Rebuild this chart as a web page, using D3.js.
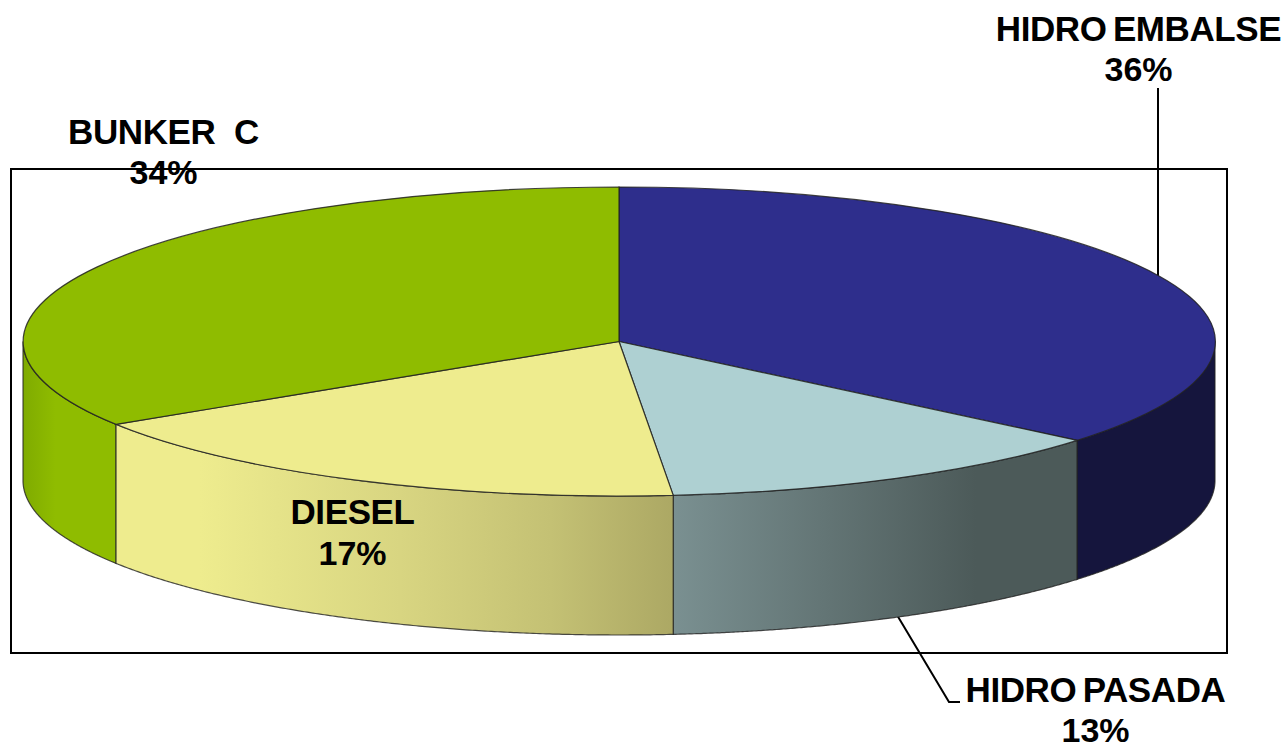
<!DOCTYPE html>
<html>
<head>
<meta charset="utf-8">
<script src="https://cdn.jsdelivr.net/npm/d3@7"></script>
<style>
  html, body { margin: 0; padding: 0; background: #fff; overflow: hidden; }
  text { font-family: "Liberation Sans", Arial, sans-serif; font-weight: bold; fill: #000; text-anchor: middle; }
</style>
</head>
<body>
<svg id="chart" width="1288" height="744"></svg>
<script>
// values, clockwise from the top of the pie
const categories = ["HIDRO EMBALSE", "HIDRO PASADA", "DIESEL", "BUNKER  C"];
const shares = [36.05, 12.5, 17.45, 34];

const topColors = ["#2e2e8c", "#aed0d2", "#eeec8e", "#8fbc00"];
const sideStops = [
    [[0, "#15153d"], [1, "#15153d"]],
    [[0, "#7a9091"], [0.75, "#4c5a59"], [1, "#4c5a59"]],
    [[0, "#eeec8e"], [0.15, "#eeec8e"], [0.29, "#e5e389"], [0.51, "#d8d581"], [0.78, "#c4c174"], [1, "#aca864"]],
    [[0, "#7fab00"], [0.35, "#8fbc00"], [1, "#8fbc00"]]
];

const cx = 619, cy = 341.5, rx = 596, ry = 154.5, depth = 139;

let svg = d3.select("#chart");

let xScale = d3.scaleLinear().domain([-1, 1]).range([cx - rx, cx + rx]);
let yScale = d3.scaleLinear().domain([-1, 1]).range([cy - ry, cy + ry]);

let pie = d3.pie().sort(null);
let slices = pie(shares);

// frame behind the pie
svg.append("rect")
    .attr("x", 11).attr("y", 169)
    .attr("width", 1216).attr("height", 484)
    .attr("fill", "none")
    .attr("stroke", "#000")
    .attr("stroke-width", 2);

// leader lines
let leader = d3.line();
svg.append("path")
    .attr("d", leader([[1158, 88], [1158, 277]]))
    .attr("fill", "none").attr("stroke", "#000").attr("stroke-width", 2);
svg.append("path")
    .attr("d", leader([[897, 615], [949, 702], [960, 702]]))
    .attr("fill", "none").attr("stroke", "#000").attr("stroke-width", 2);

// side walls: only the front half of the ellipse can be seen
let wall = d3.area()
    .x(a => xScale(Math.sin(a)))
    .y0(a => yScale(-Math.cos(a)))
    .y1(a => yScale(-Math.cos(a)) + depth);

let defs = svg.append("defs");

slices.forEach(function(d, i) {
    let from = Math.max(d.startAngle, Math.PI / 2);
    let to = Math.min(d.endAngle, 3 * Math.PI / 2);
    if (to <= from) return;

    let angles = d3.range(0, 201).map(k => from + (to - from) * k / 200);
    let xs = d3.extent(angles, a => xScale(Math.sin(a)));

    // pasada and diesel get darker going right, bunker lighter
    let grad = defs.append("linearGradient")
        .attr("id", "side" + i)
        .attr("gradientUnits", "userSpaceOnUse")
        .attr("x1", xs[0]).attr("x2", xs[1])
        .attr("y1", 0).attr("y2", 0);
    sideStops[i].forEach(function(s) {
        grad.append("stop").attr("offset", s[0]).attr("stop-color", s[1]);
    });

    svg.append("path")
        .attr("d", wall(angles))
        .attr("fill", "url(#side" + i + ")")
        .attr("stroke", "#222")
        .attr("stroke-opacity", 0.8)
        .attr("stroke-width", 1.2);
});

// top face, arc of radius one stretched to the ellipse
let arc = d3.arc().innerRadius(0).outerRadius(1);
svg.append("g")
    .attr("transform", "translate(" + cx + "," + cy + ") scale(" + rx + "," + ry + ")")
    .selectAll("path")
    .data(slices)
    .enter()
    .append("path")
    .attr("d", arc)
    .attr("fill", (d, i) => topColors[i])
    .attr("stroke", "#222")
    .attr("stroke-opacity", 0.85)
    .attr("stroke-width", 1.2)
    .attr("vector-effect", "non-scaling-stroke");

// labels
let labelPos = [
    { x: 1138.5, y: 41, gap: 39.5 },
    { x: 1095.5, y: 702, gap: 39.5 },
    { x: 352.5, y: 524, gap: 41 },
    { x: 163.5, y: 144, gap: 40 }
];

categories.forEach(function(name, i) {
    let p = labelPos[i];
    svg.append("text")
        .attr("x", p.x).attr("y", p.y)
        .attr("font-size", 35)
        .attr("letter-spacing", -0.4)
        .attr("word-spacing", i < 2 ? -3 : 0)
        .style("white-space", "pre")
        .text(name);
    svg.append("text")
        .attr("x", p.x).attr("y", p.y + p.gap)
        .attr("font-size", 34)
        .text(Math.round(shares[i]) + "%");
});
</script>
</body>
</html>
